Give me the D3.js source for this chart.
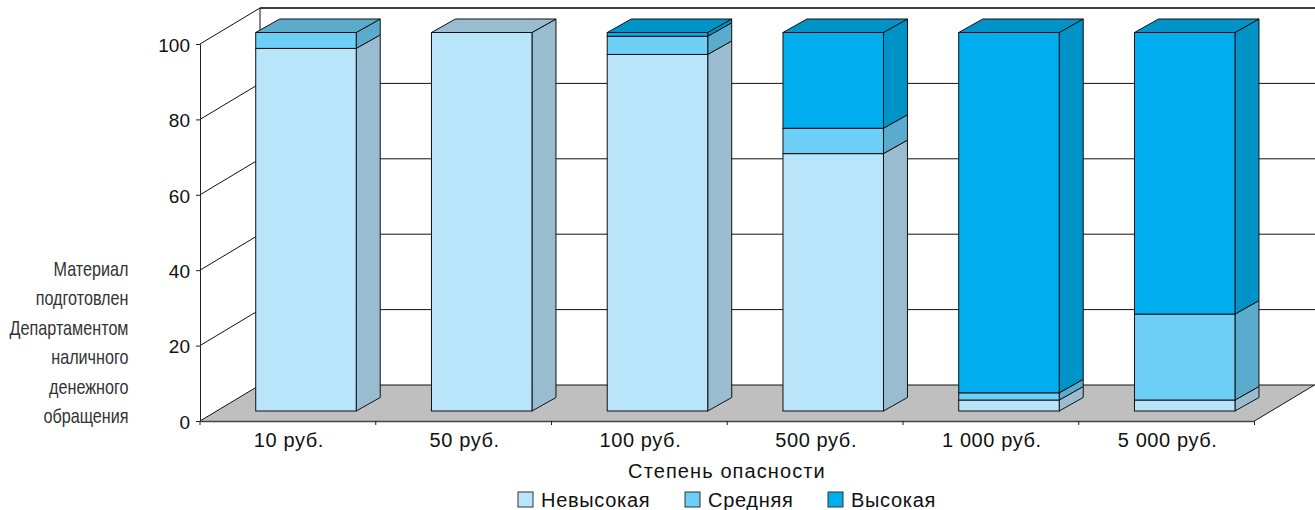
<!DOCTYPE html>
<html>
<head>
<meta charset="utf-8">
<script src="https://cdn.jsdelivr.net/npm/d3@7"></script>
<style>
body { margin: 0; background: #fff; }
svg { display: block; }
text { font-family: "Liberation Sans", Arial, sans-serif; fill: #111; }
</style>
</head>
<body>
<svg id="chart" width="1315" height="510"></svg>
<script>
const categories = ["10 руб.", "50 руб.", "100 руб.", "500 руб.", "1 000 руб.", "5 000 руб."];
const seriesNames = ["Невысокая", "Средняя", "Высокая"];
const low = [95.8, 100, 94.2, 68, 2.9, 2.9];
const mid = [4.2, 0, 4.8, 6.7, 1.9, 22.7];
const high = [0, 0, 1, 25.3, 95.2, 74.4];
const yTicks = [0, 20, 40, 60, 80, 100];
const noteLines = ["Материал", "подготовлен", "Департаментом", "наличного", "денежного", "обращения"];

const frontColors = ["#b9e5fb", "#6dcff6", "#00aeef"];
const sideColors = ["#9abcd0", "#5aabcc", "#0093c8"];

let svg = d3.select("#chart");

// front plane of the 3d box, the back wall is the same thing moved by depth
let left = 200, right = 1254.5, bottom = 421, top100 = 44;
let depth = { x: 60, y: -36 };
let barDepth = { x: 24, y: -13.5 };
let barWidth = 100.5;
let barShift = 18.1;

let x = d3.scaleBand().domain(categories).range([left, right]);
let y = d3.scaleLinear().domain([0, 100]).range([bottom, top100]);
// bars stand a bit inside the box
let yBar = d3.scaleLinear().domain([0, 100]).range([411, 32.5]);

// floor
svg.append("polygon")
    .attr("points", [[left, bottom], [right, bottom], [right + depth.x, bottom + depth.y], [left + depth.x, bottom + depth.y]].join(" "))
    .attr("fill", "#bfbfbf");

// walls
let grid = svg.append("g").attr("stroke", "#111").attr("stroke-width", 1).attr("fill", "none");
yTicks.forEach(function(t) {
    grid.append("line")
        .attr("x1", left).attr("y1", y(t))
        .attr("x2", left + depth.x).attr("y2", y(t) + depth.y);
    grid.append("line")
        .attr("x1", left + depth.x).attr("y1", y(t) + depth.y)
        .attr("x2", 1315).attr("y2", y(t) + depth.y)
        .attr("stroke-width", t == 100 ? 1.6 : 1)
        .attr("stroke", t == 100 ? "#000" : "#111");
});
grid.append("line")
    .attr("x1", left + depth.x).attr("y1", y(100) + depth.y)
    .attr("x2", left + depth.x).attr("y2", y(0) + depth.y);
grid.append("line")
    .attr("x1", right).attr("y1", bottom)
    .attr("x2", right + depth.x).attr("y2", bottom + depth.y);

// axes
let yAxis = svg.append("g")
    .attr("transform", "translate(" + left + ",0)")
    .call(d3.axisLeft(y).tickValues(yTicks).tickSize(4).tickPadding(6));
let xAxis = svg.append("g")
    .attr("transform", "translate(0," + bottom + ")")
    .call(d3.axisBottom(x).tickSize(0).tickPadding(12));
let boundaries = svg.append("g").attr("stroke", "#222");
d3.range(categories.length + 1).forEach(function(i) {
    let bx = left + i * x.step();
    boundaries.append("line").attr("x1", bx).attr("x2", bx).attr("y1", bottom).attr("y2", bottom + 4);
});
[yAxis, xAxis].forEach(function(a) {
    a.selectAll("text").style("font-family", '"Liberation Sans"').attr("fill", "#111");
    a.selectAll("path,line").attr("stroke", "#222");
});
yAxis.selectAll("text").style("font-size", "19px").attr("dy", "0.38em");
xAxis.selectAll("text").style("font-size", "20px").style("letter-spacing", "0.6px").attr("dx", 1);
xAxis.select(".domain").attr("stroke", "#444").attr("stroke-width", 1.6);

// bars, bottom segment first so upper ones overlap the shared edge
let stack = d3.stack().keys([0, 1, 2]).value((row, k) => row[k]);
let rows = categories.map((c, i) => [low[i], mid[i], high[i]]);
let layers = stack(rows);

categories.forEach(function(cat, i) {
    let bar = svg.append("g").attr("class", "bar");
    let x0 = x(cat) + (x.step() - barWidth) / 2 + barShift;
    let x1 = x0 + barWidth;
    let topKey = d3.max(layers.filter(l => l[i][1] > l[i][0]), l => l.key);
    layers.forEach(function(layer) {
        let k = layer.key;
        let [v0, v1] = layer[i];
        if (v1 <= v0) return;
        let y0 = yBar(v0), y1 = yBar(v1);
        bar.append("polygon")
            .attr("points", [[x1, y0], [x1 + barDepth.x, y0 + barDepth.y], [x1 + barDepth.x, y1 + barDepth.y], [x1, y1]].join(" "))
            .attr("fill", sideColors[k]).attr("stroke", "#111").attr("stroke-width", 1);
        bar.append("rect")
            .attr("x", x0).attr("y", y1)
            .attr("width", barWidth).attr("height", y0 - y1)
            .attr("fill", frontColors[k]).attr("stroke", "#111").attr("stroke-width", 1);
        if (k == topKey) {
            bar.append("polygon")
                .attr("points", [[x0, y1], [x1, y1], [x1 + barDepth.x, y1 + barDepth.y], [x0 + barDepth.x, y1 + barDepth.y]].join(" "))
                .attr("fill", sideColors[k]).attr("stroke", "#111").attr("stroke-width", 1);
        }
    });
});

// note on the left
svg.append("g").selectAll("text")
    .data(noteLines)
    .enter()
    .append("text")
    .attr("transform", (d, i) => "translate(128.5," + (276 + i * 29.4) + ") scale(0.83,1)")
    .attr("text-anchor", "end")
    .style("font-size", "19.5px")
    .style("fill", "#333")
    .text(d => d);

svg.append("text")
    .attr("x", 727).attr("y", 478)
    .attr("text-anchor", "middle")
    .style("font-size", "20px")
    .style("letter-spacing", "1.1px")
    .text("Степень опасности");

// legend
let legendX = [518, 685, 828];
let legend = svg.append("g").selectAll("g")
    .data(seriesNames)
    .enter()
    .append("g")
    .attr("transform", (d, i) => "translate(" + legendX[i] + ",492)");
legend.append("rect")
    .attr("width", 15).attr("height", 15)
    .attr("fill", (d, i) => frontColors[i])
    .attr("stroke", "#333").attr("stroke-width", 1);
legend.append("text")
    .attr("x", 23).attr("y", 15)
    .style("font-size", "20px")
    .style("letter-spacing", "0.7px")
    .text(d => d);
</script>
</body>
</html>
